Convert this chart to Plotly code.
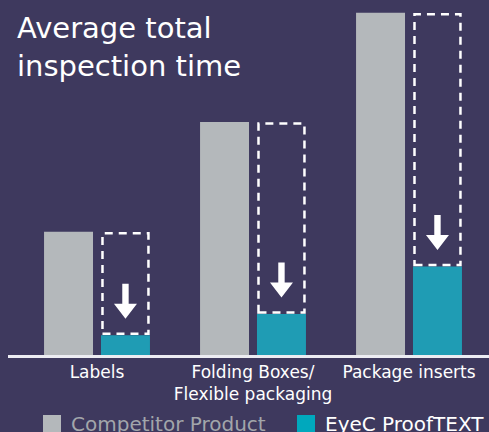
import plotly.graph_objects as go

# ---- data ----
categories = ["Labels", "Folding Boxes/<br>Flexible packaging", "Package inserts"]
competitor = [36.0, 68.1, 100.0]
eyec = [5.8, 12.0, 25.9]
series_names = ["Competitor Product", "EyeC ProofTEXT"]
title_text = "Average total<br>inspection time"

# ---- style ----
BG = "#3e395e"
GRAY = "#b4b8bb"
TEAL = "#1f9cb4"
TEAL_LEG = "#00a8bd"
FONT = "DejaVu Sans"

W, H = 489, 432
ML, MR, MT, MB = 8, 0, 5, 77
XR = [-0.5705, 2.5128]
YR = [0, 102.3]
BARGAP, GROUPGAP = 0.27, 0.14

pw = W - ML - MR
ph = H - MT - MB
xu = pw / (XR[1] - XR[0])
yu = ph / (YR[1] - YR[0])


def px_x(p):
    return (p - ML) / pw


def px_y(p):
    return (H - MB - p) / ph


x = list(range(len(categories)))

fig = go.Figure()
fig.add_bar(x=x, y=competitor, name=series_names[0], marker_color=GRAY,
            marker_line_width=0, showlegend=False, hoverinfo="skip")
fig.add_bar(x=x, y=eyec, name=series_names[1], marker_color=TEAL,
            marker_line_width=0, showlegend=False, hoverinfo="skip")

slot = (1 - BARGAP) / 2
off = slot / 2
hw = slot * (1 - GROUPGAP) / 2
ix = 1.5 / xu
iy = 1.5 / yu
for i, (c, e) in enumerate(zip(competitor, eyec)):
    cx = i + off
    fig.add_shape(type="rect", xref="x", yref="y",
                  x0=cx - hw + ix, x1=cx + hw - ix, y0=e + iy, y1=c - iy,
                  line=dict(color="white", width=2.5, dash="8px,6px"),
                  layer="above")
    tip = e + 16.5 / yu
    head = tip + 15 / yu
    top = tip + 35 / yu
    hh = 11.5 / xu
    sh = 3.2 / xu
    path = (f"M{cx - sh},{top} L{cx + sh},{top} L{cx + sh},{head} "
            f"L{cx + hh},{head} L{cx},{tip} L{cx - hh},{head} "
            f"L{cx - sh},{head} Z")
    fig.add_shape(type="path", xref="x", yref="y", path=path,
                  fillcolor="white", line_width=0, layer="above")

# title
fig.add_annotation(text=title_text, xref="paper", yref="paper",
                   x=px_x(15), y=px_y(9), xanchor="left", yanchor="top",
                   showarrow=False, align="left",
                   font=dict(family=FONT, size=29, color="white"))

# manual legend
leg = [(43, GRAY, "#a2a6ab", series_names[0]),
       (297, TEAL_LEG, "white", series_names[1])]
for lx, col, tcol, name in leg:
    fig.add_shape(type="rect", xref="paper", yref="paper",
                  x0=px_x(lx), x1=px_x(lx + 18), y0=px_y(415), y1=px_y(434),
                  fillcolor=col, line_width=0)
    fig.add_annotation(text=name, xref="paper", yref="paper",
                       x=px_x(lx + 26), y=px_y(424), xanchor="left",
                       yanchor="middle", showarrow=False,
                       font=dict(family=FONT, size=20, color=tcol))

fig.update_layout(
    width=W, height=H,
    margin=dict(l=ML, r=MR, t=MT, b=MB, pad=0),
    paper_bgcolor=BG, plot_bgcolor=BG,
    barmode="group", bargap=BARGAP, bargroupgap=GROUPGAP,
    showlegend=False,
    font=dict(family=FONT, color="white"),
    xaxis=dict(tickvals=x, ticktext=categories, range=XR,
               showline=True, linecolor="#ececf2", linewidth=2.5,
               showgrid=False, zeroline=False, ticks="",
               tickfont=dict(family=FONT, size=17, color="white"),
               fixedrange=True),
    yaxis=dict(range=YR, visible=False, fixedrange=True),
)

fig.write_html(
    "out.html",
    config={"displayModeBar": False},
    post_script="document.body.style.margin='0';document.body.style.overflow='hidden';",
)
